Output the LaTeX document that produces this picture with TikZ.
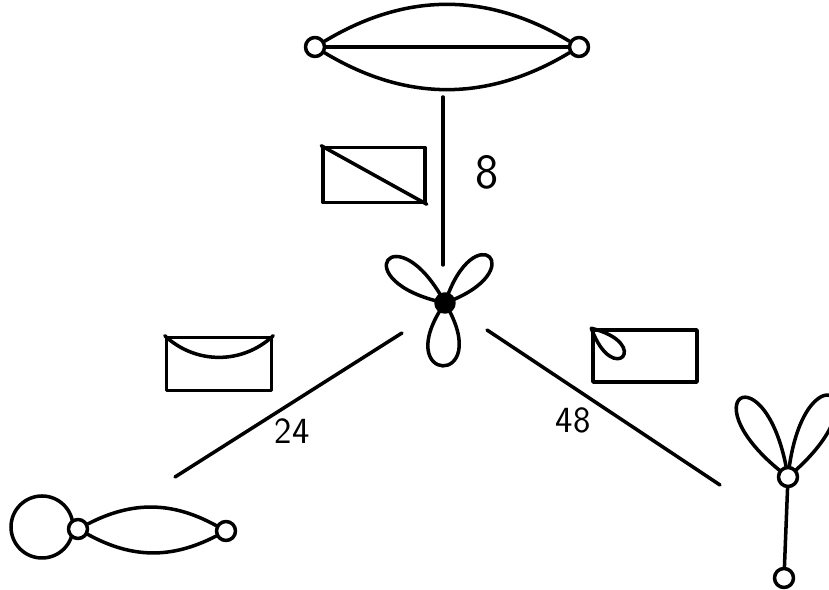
\documentclass[tikz,border=0pt]{standalone}
\newcommand{\petal}[4]{\draw (#1) .. controls +({#2+#3}:#4) and +({#2-#3}:#4) .. (#1);}
\begin{document}
\begin{tikzpicture}[x=0.02cm, y=0.02cm, line width=2pt, line cap=round, line join=round,
    vert/.style={circle, draw, fill=white, inner sep=0pt, minimum size=0.38cm},
    hub/.style={circle, draw, fill=black, inner sep=0pt, minimum size=0.36cm},
    mbox/.style={draw, inner sep=0pt},
    big/.style={font=\sffamily\fontsize{28}{30}\selectfont},
    small/.style={font=\sffamily\fontsize{21}{24}\selectfont}]
  \clip (0,0) rectangle (829,590);
  % top graph
  \node[vert] (tl) at (315,543) {};
  \node[vert] (tr) at (579,543) {};
  \draw (tl) -- (tr);
  \draw (tl) to[bend left=31] (tr);
  \draw (tl) to[bend right=31] (tr);
  % centre graph
  \coordinate (c) at (445,287);
  \petal{c}{143}{25}{105}
  \petal{c}{46}{26}{95}
  \petal{c}{-92}{33}{100}
  \node[hub] (cv) at (c) {};
  % bottom left graph
  \draw (42,63) circle[radius=31];
  \node[vert] (bl) at (78,61) {};
  \node[vert] (br) at (226,59) {};
  \draw (bl) to[bend left=28] (br);
  \draw (bl) to[bend right=28] (br);
  % bottom right graph
  \coordinate (r) at (788,113);
  \petal{r}{121}{22}{132}
  \petal{r}{62}{22}{132}
  \node[vert] (rv) at (r) {};
  \node[vert] (rl) at (784,12) {};
  \draw (rv) -- (rl);
  % connecting lines
  \coordinate (e1a) at (443,493);
  \coordinate (e1b) at (443,325);
  \coordinate (e2a) at (402,257);
  \coordinate (e2b) at (175,113);
  \coordinate (e3a) at (487,260);
  \coordinate (e3b) at (720,105);
  \draw (e1a) -- (e1b);
  \draw (e2a) -- (e2b);
  \draw (e3a) -- (e3b);
  \node[big] (n8) at (487,418) {8};
  \node[small] (n24) at (292,159) {24};
  \node[small] (n48) at (573,170) {48};
  % boxes
  \node[mbox, minimum width=2.04cm, minimum height=1.1cm] (b1) at (374,415) {};
  \draw (b1.north west) -- (b1.south east);
  \node[mbox, minimum width=2.1cm, minimum height=1.06cm] (b2) at (219,226) {};
  \draw (b2.north west) to[bend right=43] (b2.north east);
  \node[mbox, minimum width=2.08cm, minimum height=1.04cm] (b3) at (645,234) {};
  \draw (b3.north west) .. controls +(-14:64) and +(-70:64) .. (b3.north west);
\end{tikzpicture}
\end{document}
